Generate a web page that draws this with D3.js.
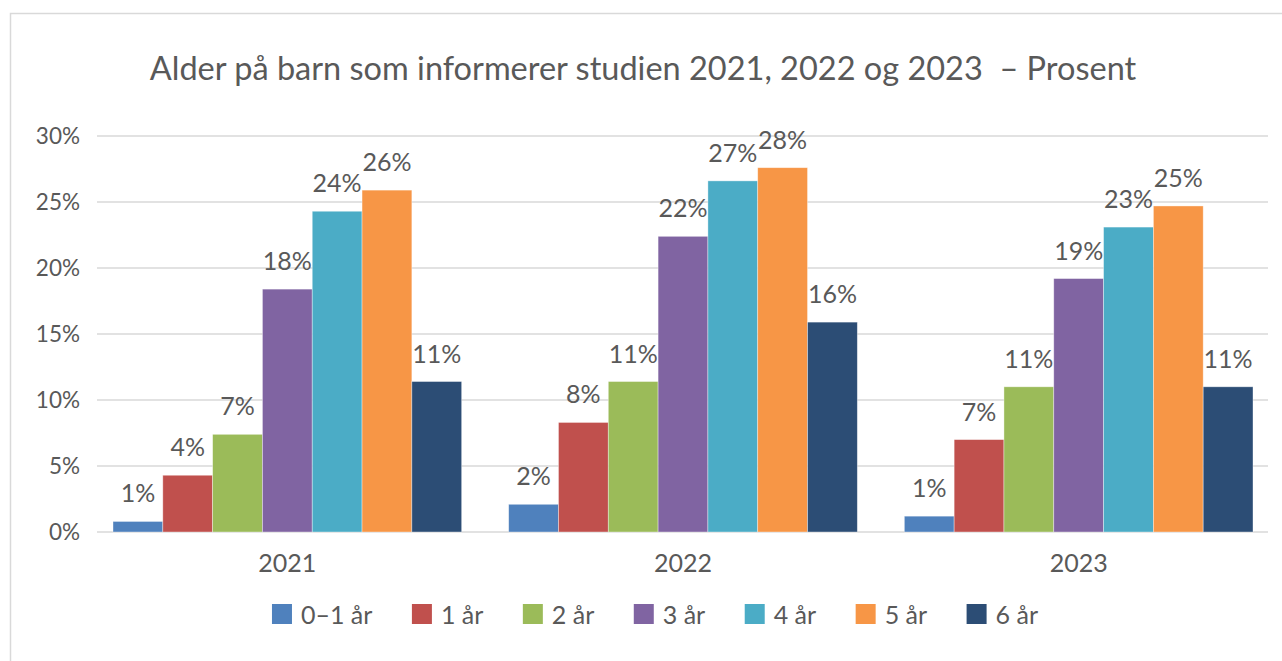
<!DOCTYPE html>
<html>
<head>
<meta charset="utf-8">
<script src="https://cdn.jsdelivr.net/npm/d3@7"></script>
<style>
  html, body { margin: 0; padding: 0; background: #fff; }
  svg { display: block; }
</style>
</head>
<body>
<div id="chart"></div>
<script>
// Alder på barn som informerer studien – grouped bars, one group per year

const years = ["2021", "2022", "2023"];
const ages = ["0–1 år", "1 år", "2 år", "3 år", "4 år", "5 år", "6 år"];
const colors = ["#4F81BD", "#C0504D", "#9BBB59", "#8064A2", "#4BACC6", "#F79646", "#2C4D75"];

// percent values per age group, in year order
const v2021 = [0.8, 4.3, 7.4, 18.4, 24.3, 25.9, 11.4];
const v2022 = [2.1, 8.3, 11.4, 22.4, 26.6, 27.6, 15.9];
const v2023 = [1.2, 7.0, 11.0, 19.2, 23.1, 24.7, 11.0];
const yTicks = [0, 5, 10, 15, 20, 25, 30];

const valuesByYear = [v2021, v2022, v2023];

const W = 1282, H = 661;
const font = "Lato, 'Open Sans', sans-serif";
const textColor = "#595959";

const svg = d3.select("#chart").append("svg")
  .attr("width", W)
  .attr("height", H);

// chart frame
svg.append("rect")
  .attr("x", 10.5).attr("y", 13.5)
  .attr("width", 1300).attr("height", 700)
  .attr("fill", "#fff")
  .attr("stroke", "#D9D9D9")
  .attr("stroke-width", 1.5);

// title (double space kept like in the original)
svg.append("text")
  .attr("x", 643)
  .attr("y", 80)
  .attr("text-anchor", "middle")
  .attr("font-family", font)
  .attr("font-size", 32.5)
  .attr("fill", textColor)
  .style("white-space", "pre")
  .text("Alder på barn som informerer studien 2021, 2022 og 2023  – Prosent");

// scales
const y = d3.scaleLinear().domain([0, 30]).range([532, 136]);
const x0 = d3.scaleBand().domain(years).range([89.5, 1276.5]).padding(0);
const x1 = d3.scaleBand().domain(ages)
  .range([23.5, x0.bandwidth() - 23.5]).padding(0);

// gridlines
const gridX0 = 97, gridX1 = 1268;
svg.append("g")
  .selectAll("line")
  .data(yTicks)
  .join("line")
  .attr("x1", gridX0).attr("x2", gridX1)
  .attr("y1", d => y(d)).attr("y2", d => y(d))
  .attr("stroke", "#D9D9D9")
  .attr("stroke-width", 1.5);

// y axis labels
const yAxis = svg.append("g")
  .attr("transform", `translate(${gridX0 - 2},0)`)
  .call(d3.axisLeft(y).tickValues(yTicks).tickSize(0).tickPadding(15).tickFormat(d => d + "%"));
yAxis.select(".domain").remove();
yAxis.selectAll("text")
  .attr("font-family", font)
  .attr("font-size", 22.5)
  .attr("fill", textColor);

// x axis labels
const xAxis = svg.append("g")
  .attr("transform", `translate(0,${y(0)})`)
  .call(d3.axisBottom(x0).tickSize(0).tickPadding(22));
xAxis.select(".domain").remove();
xAxis.selectAll("text")
  .attr("font-family", font)
  .attr("font-size", 25)
  .attr("fill", textColor);

// bars
const groups = svg.append("g")
  .selectAll("g")
  .data(years.map((yr, i) => ({ year: yr, values: valuesByYear[i] })))
  .join("g")
  .attr("transform", d => `translate(${x0(d.year)},0)`);

groups.selectAll("rect")
  .data(d => d.values.map((v, j) => ({ age: ages[j], value: v, color: colors[j] })))
  .join("rect")
  .attr("x", d => x1(d.age))
  .attr("y", d => y(d.value))
  .attr("width", x1.bandwidth())
  .attr("height", d => y(0) - y(d.value))
  .attr("fill", d => d.color)
  .attr("stroke", "#fff")
  .attr("stroke-opacity", 0.5)
  .attr("stroke-width", 0.75);

// data labels
groups.selectAll("text.lbl")
  .data(d => d.values.map((v, j) => ({ age: ages[j], value: v })))
  .join("text")
  .attr("class", "lbl")
  .attr("x", d => x1(d.age) + x1.bandwidth() / 2)
  .attr("y", d => y(d.value) - 19)
  .attr("text-anchor", "middle")
  .attr("font-family", font)
  .attr("font-size", 25)
  .attr("fill", textColor)
  .text(d => Math.round(d.value) + "%");

// legend, centred under the plot
const legend = svg.append("g");
let lx = 0;
ages.forEach((a, i) => {
  const item = legend.append("g").attr("transform", `translate(${lx},0)`);
  item.append("rect")
    .attr("x", 0).attr("y", 604)
    .attr("width", 20).attr("height", 20)
    .attr("fill", colors[i]);
  const t = item.append("text")
    .attr("x", 29).attr("y", 624)
    .attr("font-family", font)
    .attr("font-size", 25)
    .attr("fill", textColor)
    .text(a);
  const w = 29 + t.node().getComputedTextLength();
  lx += w + (i < ages.length - 1 ? 39.5 : 0);
});
legend.attr("transform", `translate(${655 - lx / 2},0)`);
</script>
</body>
</html>
